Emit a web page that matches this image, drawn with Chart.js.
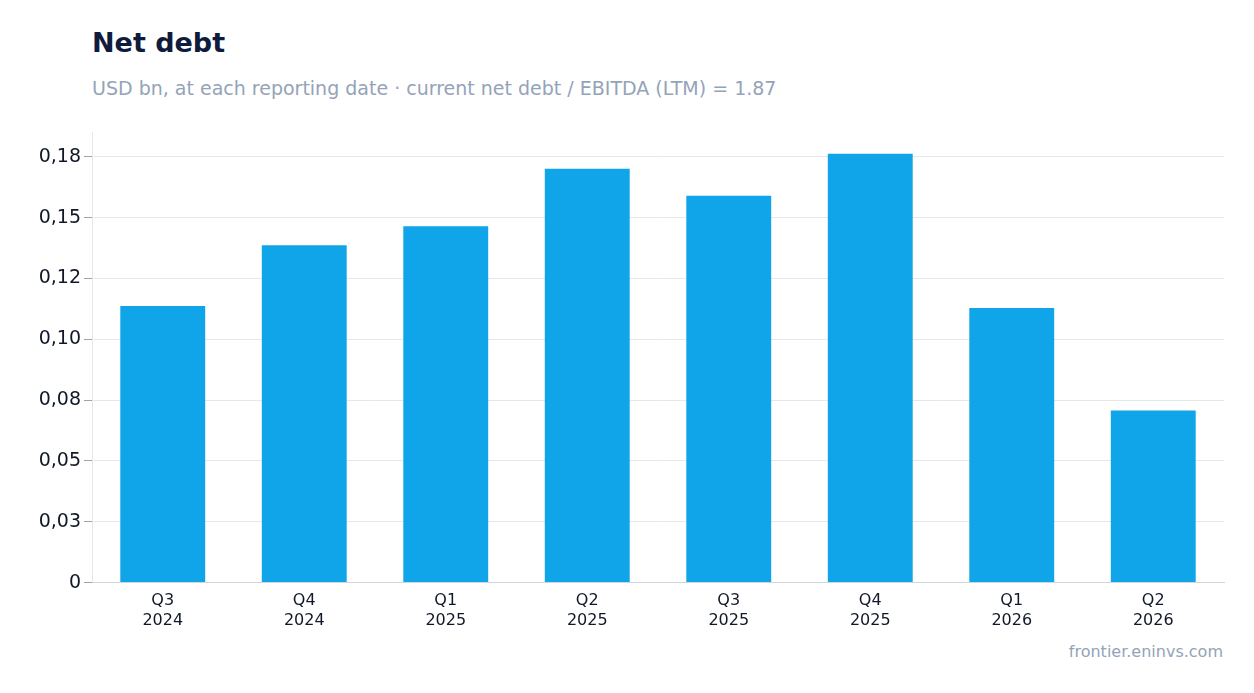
<!DOCTYPE html>
<html>
<head>
<meta charset="utf-8">
<script src="https://cdn.jsdelivr.net/npm/chart.js@4"></script>
<style>
  body { margin: 0; background: #fff; font-family: "DejaVu Sans", sans-serif; }
  #title { position: absolute; left: 92px; top: 27px; font-size: 27px; font-weight: bold; color: #0f1b3d; }
  #subtitle { position: absolute; left: 92px; top: 77px; font-size: 19px; color: #94a3b8; }
  #source { position: absolute; right: 31px; top: 642px; font-size: 16px; color: #94a3b8; }
  #wrap { position: absolute; left: 0; top: 118px; width: 1254px; height: 515px; }
</style>
</head>
<body>
<div id="title">Net debt</div>
<div id="subtitle">USD bn, at each reporting date · current net debt / EBITDA (LTM) = 1.87</div>
<div id="wrap"><canvas id="c"></canvas></div>
<div id="source">frontier.eninvs.com</div>
<script>
const quarters = [['Q3', '2024'], ['Q4', '2024'], ['Q1', '2025'], ['Q2', '2025'], ['Q3', '2025'], ['Q4', '2025'], ['Q1', '2026'], ['Q2', '2026']];
const netDebt = [0.1137, 0.1386, 0.1464, 0.1701, 0.159, 0.1762, 0.1128, 0.0707];
const tickLabels = ['0', '0,03', '0,05', '0,08', '0,10', '0,12', '0,15', '0,18'];

const ctx = document.getElementById('c').getContext('2d');
new Chart(ctx, {
    type: 'bar',
    data: {
        labels: quarters,
        datasets: [{
            data: netDebt,
            backgroundColor: '#10a5e8',
            barPercentage: 0.6,
            categoryPercentage: 1
        }]
    },
    options: {
        responsive: true,
        maintainAspectRatio: false,
        animation: false,
        layout: { padding: { top: 5, right: 30 } },
        plugins: { legend: { display: false }, tooltip: { enabled: false } },
        scales: {
            y: {
                min: 0,
                max: 0.185,
                afterFit: function(axis) { axis.width = 92; },
                afterBuildTicks: function(axis) {
                    axis.ticks = tickLabels.map((t, i) => ({ value: i * 0.025 }));
                },
                ticks: {
                    font: { size: 19, family: 'DejaVu Sans' },
                    color: '#111827',
                    callback: function(value, index) { return tickLabels[index]; }
                },
                grid: { color: '#e5e7eb', tickLength: 8, tickColor: '#9ca3af' },
                border: { color: '#e5e7eb' }
            },
            x: {
                ticks: { font: { size: 16, family: 'DejaVu Sans' }, color: '#111827' },
                grid: { display: false, tickLength: 6, tickColor: '#111827' },
                border: { color: '#d1d5db' }
            }
        }
    }
});
</script>
</body>
</html>
